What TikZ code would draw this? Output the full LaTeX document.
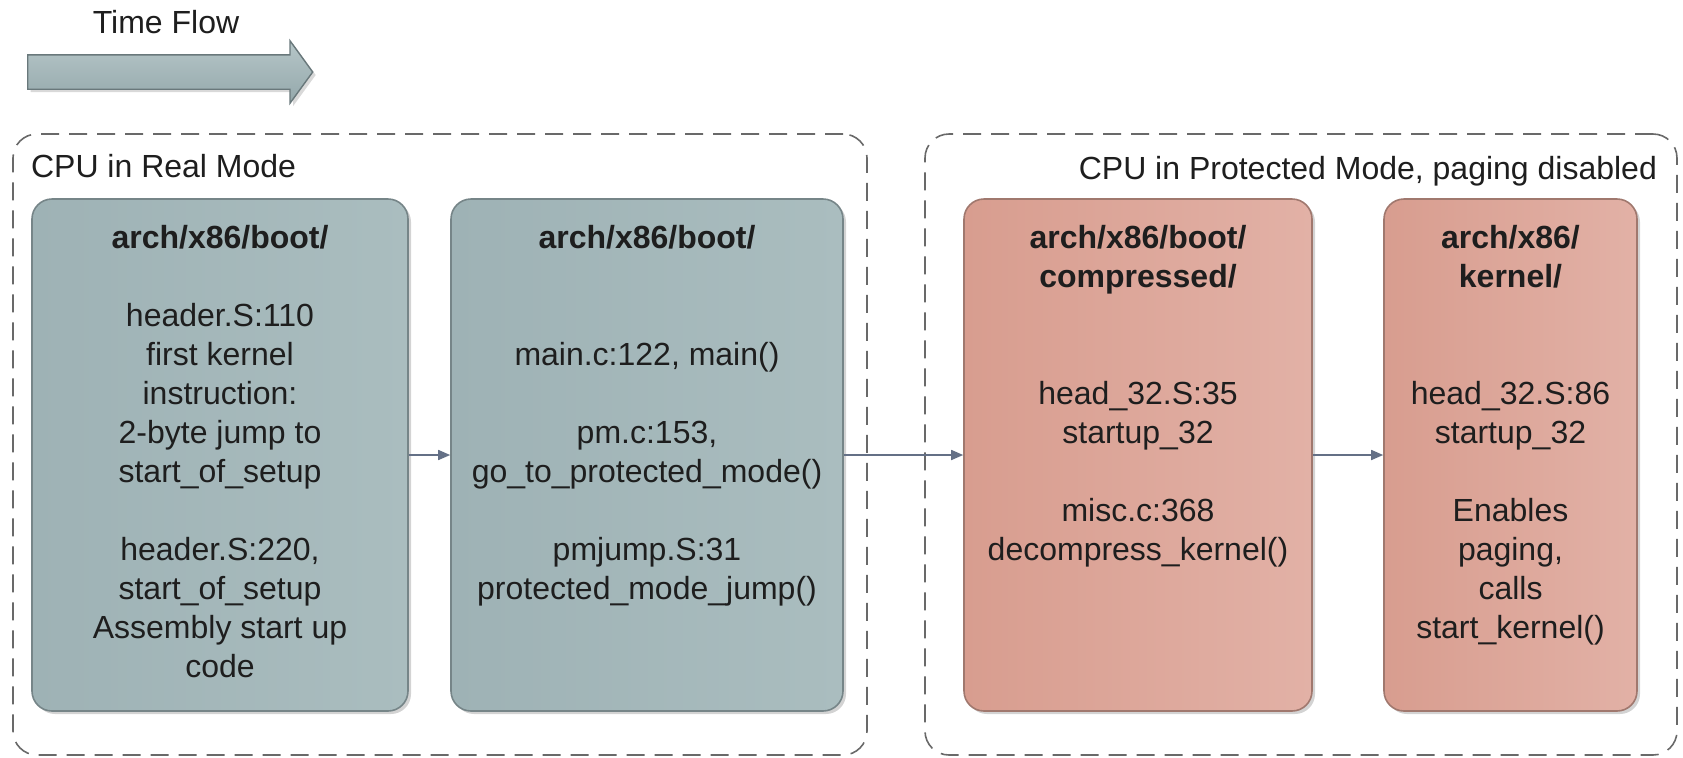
\documentclass[tikz,border=0pt]{standalone}
\usepackage{fontspec}
\setmainfont{Liberation Sans}
\usetikzlibrary{shapes.arrows,shadows,arrows.meta}

\definecolor{inktext}{RGB}{30,30,30}
\definecolor{regiongray}{RGB}{105,105,105}
\definecolor{realleft}{RGB}{158,178,181}
\definecolor{realright}{RGB}{170,189,191}
\definecolor{realline}{RGB}{118,133,136}
\definecolor{protleft}{RGB}{216,157,143}
\definecolor{protright}{RGB}{226,177,166}
\definecolor{protline}{RGB}{160,120,110}
\definecolor{flowline}{RGB}{100,112,134}
\definecolor{timetop}{RGB}{182,198,200}
\definecolor{timebottom}{RGB}{148,168,171}
\definecolor{timeline}{RGB}{105,120,123}

\begin{document}
\begin{tikzpicture}[
  x=0.5pt, y=-0.5pt,
  every node/.style={text=inktext},
  labelfont/.style={font=\fontsize{16pt}{19.5pt}\selectfont},
  region/.style={rectangle, draw=regiongray, line width=0.8pt,
    dash pattern=on 9pt off 5pt, rounded corners=12pt, inner sep=0pt},
  stage/.style={rectangle, rounded corners=10pt, line width=0.8pt,
    minimum height=256pt, inner sep=0pt,
    drop shadow={opacity=0.35, shadow xshift=1.5pt, shadow yshift=-1.5pt}},
  realstage/.style={stage, draw=realline, left color=realleft, right color=realright},
  protstage/.style={stage, draw=protline, left color=protleft, right color=protright},
  stagetext/.style={labelfont, anchor=north, align=center, inner sep=0pt},
  flow/.style={draw=flowline, line width=0.8pt, -{Triangle[length=6pt,width=5pt]}},
  timearrow/.style={single arrow, draw=timeline, line width=0.7pt,
    top color=timetop, bottom color=timebottom,
    minimum height=142.5pt, inner xsep=0pt, inner ysep=8.25pt,
    single arrow head extend=7pt, single arrow tip angle=108,
    drop shadow={opacity=0.3, shadow xshift=1.5pt, shadow yshift=-1.5pt}}
]
\useasboundingbox (0,0) rectangle (1683,757);

% time direction
\node[labelfont, anchor=base] (timelabel) at (166,33.5) {Time Flow};
\node[timearrow, anchor=tail] (timearr) at (27,72) {};

% processor mode regions
\node[region, minimum width=427pt, minimum height=310.5pt] (realregion) at (440,444.5) {};
\node[region, minimum width=376pt, minimum height=310.5pt] (protregion) at (1301,444.5) {};
\node[labelfont, anchor=base west] (reallabel) at (24,177.5) {CPU in Real Mode};
\node[labelfont, anchor=base east] (protlabel) at (1664,179.5) {CPU in Protected Mode, paging disabled};

% boot stages
\node[realstage, minimum width=188pt] (b1) at (220,455) {};
\node[realstage, minimum width=196pt] (b2) at (647,455) {};
\node[protstage, minimum width=174pt] (b3) at (1138,455) {};
\node[protstage, minimum width=126.5pt] (b4) at (1510.5,455) {};

\node[stagetext] (t1) at (220,221.2) {\strut\textbf{arch/x86/boot/}\\[19.5pt]
  header.S:110\\ first kernel\\ instruction:\\ 2-byte jump to\\ start\_of\_setup\\[19.5pt]
  header.S:220,\\ start\_of\_setup\\ Assembly start up\\ code};
\node[stagetext] (t2) at (647,221.2) {\strut\textbf{arch/x86/boot/}\\[39pt]
  main.c:122, main()\\[19.5pt]
  pm.c:153,\\ go\_to\_protected\_mode()\\[19.5pt]
  pmjump.S:31\\ protected\_mode\_jump()};
\node[stagetext] (t3) at (1138,221.2) {\strut\textbf{arch/x86/boot/}\\ \textbf{compressed/}\\[39pt]
  head\_32.S:35\\ startup\_32\\[19.5pt]
  misc.c:368\\ decompress\_kernel()};
\node[stagetext] (t4) at (1510.5,221.2) {\strut\textbf{arch/x86/}\\ \textbf{kernel/}\\[39pt]
  head\_32.S:86\\ startup\_32\\[19.5pt]
  Enables\\ paging,\\ calls\\ start\_kernel()};

% control transfer between stages
\draw[flow] (b1.east) -- (b2.west);
\draw[flow] (b2.east) -- (b3.west);
\draw[flow] (b3.east) -- (b4.west);
\end{tikzpicture}
\end{document}
